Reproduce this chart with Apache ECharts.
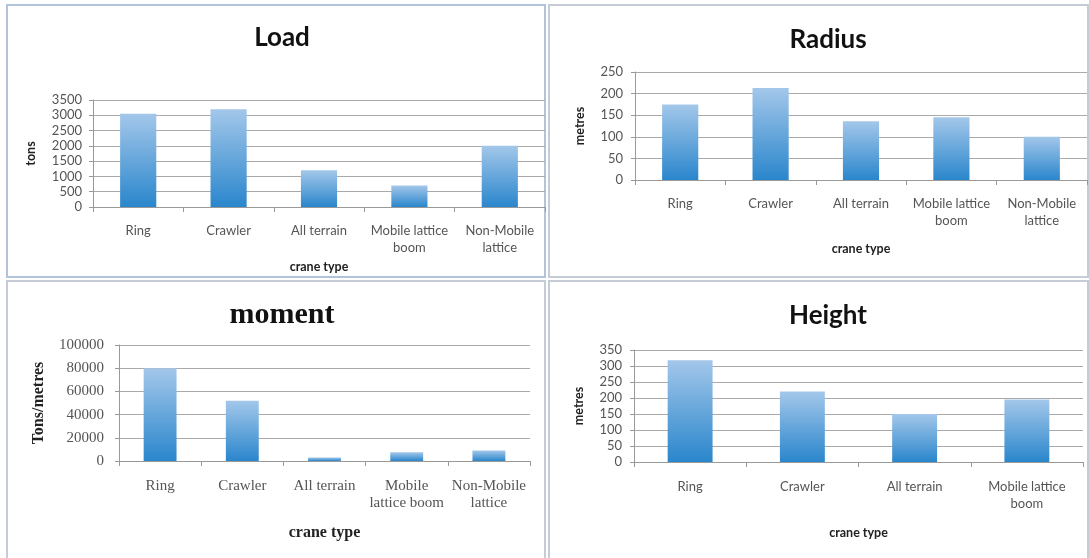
<!DOCTYPE html>
<html>
<head>
<meta charset="utf-8">
<title>Crane types</title>
<script src="https://cdn.jsdelivr.net/npm/echarts@6/dist/echarts.min.js"></script>
<style>
  html, body { margin: 0; padding: 0; background: #fff; }
  #chart { width: 1089px; height: 558px; }
</style>
</head>
<body>
<div id="chart"></div>
<script>
// categories (with the line breaks used in each panel)
const loadCats = ['Ring', 'Crawler', 'All terrain', 'Mobile lattice\nboom', 'Non-Mobile\nlattice']
const radiusCats = ['Ring', 'Crawler', 'All terrain', 'Mobile lattice\nboom', 'Non-Mobile\nlattice']
const momentCats = ['Ring', 'Crawler', 'All terrain', 'Mobile\nlattice boom', 'Non-Mobile\nlattice']
const heightCats = ['Ring', 'Crawler', 'All terrain', 'Mobile lattice\nboom']

// values
const loadValues = [3050, 3200, 1200, 700, 2000]
const radiusValues = [175, 213, 136, 145, 100]
const momentValues = [80000, 52000, 3000, 7500, 9000]
const heightValues = [318, 220, 150, 195]

const sans = 'Lato, "Open Sans", sans-serif'
const serif = '"Liberation Serif", "DejaVu Serif", serif'

const barColor = new echarts.graphic.LinearGradient(0, 0, 0, 1, [
  { offset: 0, color: '#a3c7ea' },
  { offset: 1, color: '#2a86cc' }
])

const panels = [
  { title: 'Load', cats: loadCats, values: loadValues, max: 3500, interval: 500, yName: 'tons',
    font: sans, titleSize: 26, labelSize: 13, nameSize: 12.5,
    grid: { left: 93, top: 100, width: 452, height: 107 }, titleX: 277, titleY: 20,
    xMargin: 15, xNameGap: 53, yNameGap: 56, yMargin: 11 },
  { title: 'Radius', cats: radiusCats, values: radiusValues, max: 250, interval: 50, yName: 'metres',
    font: sans, titleSize: 26, labelSize: 13, nameSize: 12.5,
    grid: { left: 635, top: 72, width: 452, height: 108 }, titleX: 823, titleY: 22,
    xMargin: 15, xNameGap: 62, yNameGap: 49, yMargin: 12 },
  { title: 'moment', cats: momentCats, values: momentValues, max: 100000, interval: 20000, yName: 'Tons/metres',
    font: serif, titleSize: 30, labelSize: 15, nameSize: 16,
    grid: { left: 119, top: 345, width: 411, height: 116 }, titleX: 277, titleY: 295,
    xMargin: 17, xNameGap: 64, yNameGap: 72, yMargin: 15 },
  { title: 'Height', cats: heightCats, values: heightValues, max: 350, interval: 50, yName: 'metres',
    font: sans, titleSize: 26, labelSize: 13, nameSize: 12.5,
    grid: { left: 634, top: 350, width: 449, height: 112 }, titleX: 823, titleY: 298,
    xMargin: 16, xNameGap: 64, yNameGap: 49, yMargin: 12 }
]

const chart = echarts.init(document.getElementById('chart'))

chart.setOption({
  animation: false,
  graphic: [
    { type: 'rect', shape: { x: 7, y: 5, width: 538, height: 272 }, style: { fill: 'none', stroke: '#b3c3dc', lineWidth: 2 } },
    { type: 'rect', shape: { x: 549, y: 5, width: 539, height: 272 }, style: { fill: 'none', stroke: '#c6ccd6', lineWidth: 2 } },
    { type: 'rect', shape: { x: 7, y: 281, width: 538, height: 280 }, style: { fill: 'none', stroke: '#c6ccd6', lineWidth: 2 } },
    { type: 'rect', shape: { x: 549, y: 281, width: 539, height: 280 }, style: { fill: 'none', stroke: '#c6ccd6', lineWidth: 2 } }
  ],
  title: panels.map(p => ({
    text: p.title,
    left: p.titleX,
    top: p.titleY,
    textAlign: 'center',
    textStyle: { fontFamily: p.font, fontSize: p.titleSize, fontWeight: 'bold', color: '#111' }
  })),
  grid: panels.map(p => p.grid),
  xAxis: panels.map((p, i) => ({
    type: 'category',
    gridIndex: i,
    data: p.cats,
    name: 'crane type',
    nameLocation: 'middle',
    nameGap: p.xNameGap,
    nameTextStyle: { fontFamily: p.font, fontSize: p.nameSize, fontWeight: 'bold', color: '#222' },
    axisLine: { lineStyle: { color: '#999' } },
    axisTick: { show: true, length: 5, lineStyle: { color: '#999' } },
    axisLabel: { interval: 0, margin: p.xMargin, fontFamily: p.font, fontSize: p.labelSize, color: '#555', lineHeight: 17 }
  })),
  yAxis: panels.map((p, i) => ({
    type: 'value',
    gridIndex: i,
    min: 0,
    max: p.max,
    interval: p.interval,
    name: p.yName,
    nameLocation: 'middle',
    nameGap: p.yNameGap,
    nameTextStyle: { fontFamily: p.font, fontSize: p.nameSize, fontWeight: 'bold', color: '#222' },
    axisLine: { show: true, lineStyle: { color: '#999' } },
    axisTick: { show: true, length: 4, lineStyle: { color: '#999' } },
    axisLabel: { margin: p.yMargin, fontFamily: p.font, fontSize: p.labelSize, color: '#555', formatter: v => String(v) },
    splitLine: { lineStyle: { color: '#aaa' } }
  })),
  series: panels.map((p, i) => ({
    type: 'bar',
    xAxisIndex: i,
    yAxisIndex: i,
    data: p.values,
    barWidth: '40%',
    itemStyle: { color: barColor }
  }))
})
</script>
</body>
</html>
